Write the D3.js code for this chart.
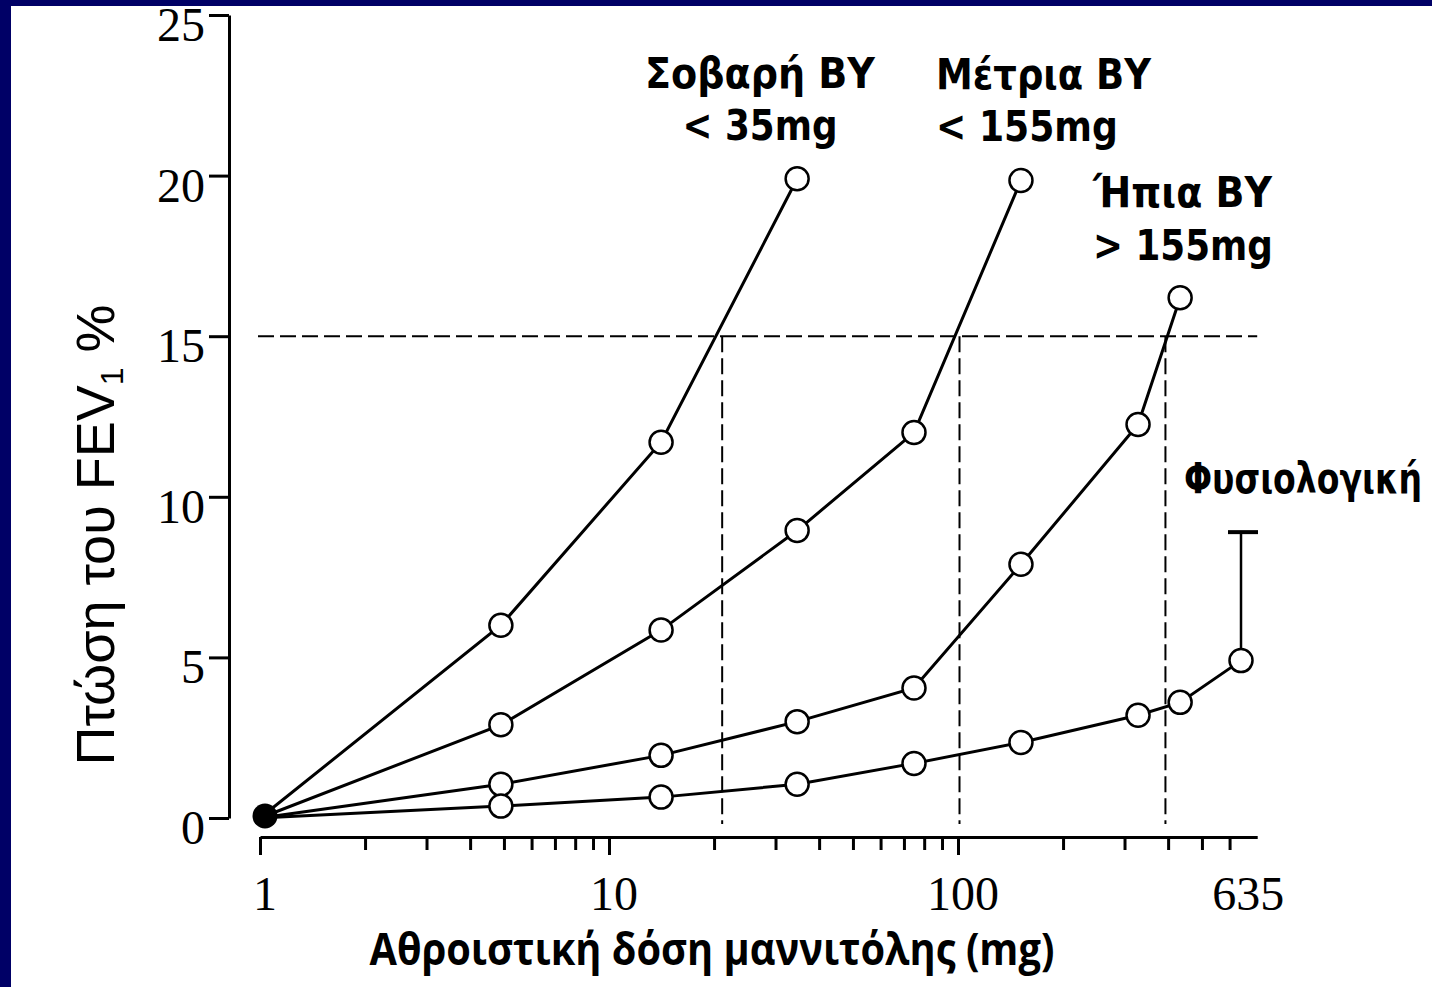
<!DOCTYPE html>
<html>
<head>
<meta charset="utf-8">
<script src="https://cdn.jsdelivr.net/npm/d3@7"></script>
<style>
  html, body { margin: 0; padding: 0; background: #ffffff; }
  svg { display: block; }
</style>
</head>
<body>
<script>
// Cumulative mannitol dose (mg) at each step of the challenge
const doses = [1, 4.9, 14.1, 34.6, 74.8, 151.5, 328, 433, 647];

// Fall in FEV1 (%) per group, one value per dose step
const severe   = [0, 6.0, 11.7, 19.9];
const moderate = [0, 2.9, 5.85, 8.95, 12.0, 19.85];
const mild     = [0, 1.05, 1.95, 3.0, 4.05, 7.9, 12.25, 16.2];
const normal   = [0, 0.37, 0.65, 1.05, 1.7, 2.35, 3.2, 3.6, 4.9];
const normalErrTop = 8.9;

// 15% threshold and the provoking dose of each asthmatic group
const threshold = 15;
const pd15 = [21.1, 101, 393];

// Axis ticks and labels
const yTicks = [0, 5, 10, 15, 20, 25];
const xMajorTicks = [1, 10, 100];
const xMinorTicks = [2, 3, 4, 5, 6, 7, 8, 9, 20, 30, 40, 50, 60, 70, 80, 90, 200, 300, 400, 500, 600];
const xTickLabels = [1, 10, 100, 635];

// Group annotations
const labels = [
  { lines: ["Σοβαρή ΒΥ", "< 35mg"], anchor: "middle", x: 760, ys: [88, 140], widths: [230, 155] },
  { lines: ["Μέτρια ΒΥ", "< 155mg"], anchor: "start", x: 936, ys: [89, 141], widths: [215, 182] },
  { lines: ["Ήπια ΒΥ", "> 155mg"], anchor: "start", x: 1093, ys: [207, 260], widths: [179, 180] },
  { lines: ["Φυσιολογική"], anchor: "start", x: 1184, ys: [493], widths: [238] }
];

const W = 1432, H = 987;
const svg = d3.select("body").append("svg").attr("width", W).attr("height", H);

svg.append("rect").attr("width", W).attr("height", H).attr("fill", "#ffffff");

// Squeeze a text horizontally about its anchor so it spans the given width
function fitWidth(text, px, py, width) {
  const natural = text.node().getComputedTextLength();
  const k = natural > 0 ? width / natural : 1;
  text.attr("x", 0).attr("y", 0)
    .attr("transform", `translate(${px},${py}) scale(${k},1)`);
}

// Scales
const x = d3.scaleLog().domain([1, 720]).range([260, 260 + 349 * Math.log10(720)]);
const y = d3.scaleLinear().domain([0, 25]).range([818, 15]);
const axisY = 837;
const axisX = 229;

// Dashed threshold guides
const guides = svg.append("g").attr("stroke", "#000").attr("stroke-width", 2)
  .attr("stroke-dasharray", "16,6").attr("fill", "none");
guides.append("line")
  .attr("x1", x(1) - 2).attr("x2", x(720))
  .attr("y1", y(threshold)).attr("y2", y(threshold));
guides.selectAll("line.v").data(pd15).join("line").attr("class", "v")
  .attr("x1", d => x(d)).attr("x2", d => x(d))
  .attr("y1", y(threshold)).attr("y2", axisY - 13);

// Y axis
const gy = svg.append("g").attr("transform", `translate(${axisX},0)`)
  .call(d3.axisLeft(y).tickValues(yTicks).tickSize(20).tickSizeOuter(0).tickFormat(""));
gy.selectAll("path, line").attr("stroke", "#000").attr("stroke-width", 3);

svg.append("g").selectAll("text").data(yTicks).join("text")
  .attr("x", 205).attr("y", d => y(d) + 26)
  .attr("text-anchor", "end")
  .attr("font-family", "'Liberation Serif', 'Times New Roman', serif")
  .attr("font-size", 48).attr("fill", "#000")
  .text(d => d);

// X axis: minor ticks with the axis line, then longer major ticks
const gxMinor = svg.append("g").attr("transform", `translate(0,${axisY})`)
  .call(d3.axisBottom(x).tickValues(xMinorTicks).tickSize(13).tickSizeOuter(0).tickFormat(""));
gxMinor.selectAll("path, line").attr("stroke", "#000").attr("stroke-width", 3);

const gxMajor = svg.append("g").attr("transform", `translate(0,${axisY})`)
  .call(d3.axisBottom(x).tickValues(xMajorTicks).tickSize(18).tickSizeOuter(0).tickFormat(""));
gxMajor.select(".domain").remove();
gxMajor.selectAll("line").attr("stroke", "#000").attr("stroke-width", 3);

svg.append("g").selectAll("text").data(xTickLabels).join("text")
  .attr("x", d => x(d) + (d === 635 ? 10 : 5)).attr("y", 910)
  .attr("text-anchor", "middle")
  .attr("font-family", "'Liberation Serif', 'Times New Roman', serif")
  .attr("font-size", 48).attr("fill", "#000")
  .text(d => d);

// Axis titles
const yTitle = svg.append("text")
  .attr("transform", "translate(114,535) rotate(-90)")
  .attr("text-anchor", "middle")
  .attr("font-family", "'Liberation Sans', Arial, sans-serif")
  .attr("font-size", 54).attr("fill", "#000");
yTitle.append("tspan").text("Πτώση του FEV");
yTitle.append("tspan").attr("font-size", 32).attr("dy", 9).text("1");
yTitle.append("tspan").attr("dy", -9).text(" %");

const xTitle = svg.append("text")
  .attr("text-anchor", "middle")
  .attr("font-family", "'Open Sans', 'DejaVu Sans', sans-serif")
  .attr("font-weight", 700).attr("font-size", 44).attr("fill", "#000")
  .text("Αθροιστική δόση μαννιτόλης (mg)");
fitWidth(xTitle, 712, 965, 685);

// Series lines and markers
const series = [severe, moderate, mild, normal].map(vals => vals.map((v, i) => [doses[i], v]));
const line = d3.line().x(d => x(d[0])).y(d => y(d[1]));

// Error bar on the last healthy-group point
const last = series[3][series[3].length - 1];
svg.append("line")
  .attr("x1", x(last[0])).attr("x2", x(last[0]))
  .attr("y1", y(last[1])).attr("y2", y(normalErrTop))
  .attr("stroke", "#000").attr("stroke-width", 2.5);
svg.append("line")
  .attr("x1", x(last[0]) - 13).attr("x2", x(last[0]) + 17)
  .attr("y1", y(normalErrTop)).attr("y2", y(normalErrTop))
  .attr("stroke", "#000").attr("stroke-width", 4);

svg.append("g").selectAll("path").data(series).join("path")
  .attr("d", line)
  .attr("fill", "none").attr("stroke", "#000").attr("stroke-width", 3);

svg.append("g").selectAll("circle")
  .data(series.flatMap(s => s.slice(1)))
  .join("circle")
  .attr("cx", d => x(d[0])).attr("cy", d => y(d[1])).attr("r", 11.5)
  .attr("fill", "#fff").attr("stroke", "#000").attr("stroke-width", 2.5);

// Shared baseline point
svg.append("circle")
  .attr("cx", x(doses[0]) + 5).attr("cy", y(0) - 2).attr("r", 12.5)
  .attr("fill", "#000");

// Group annotations
const ann = svg.append("g")
  .attr("font-family", "'DejaVu Sans', 'Open Sans', sans-serif")
  .attr("font-weight", 700).attr("font-size", 43).attr("fill", "#000");
labels.forEach(l => {
  l.lines.forEach((t, i) => {
    const txt = ann.append("text")
      .attr("text-anchor", l.anchor)
      .text(t);
    fitWidth(txt, l.x, l.ys[i], l.widths[i]);
  });
});

// Slide frame
svg.append("rect").attr("x", 0).attr("y", 0).attr("width", W).attr("height", 6).attr("fill", "#000066");
svg.append("rect").attr("x", 0).attr("y", 0).attr("width", 11).attr("height", H).attr("fill", "#000066");
</script>
</body>
</html>
